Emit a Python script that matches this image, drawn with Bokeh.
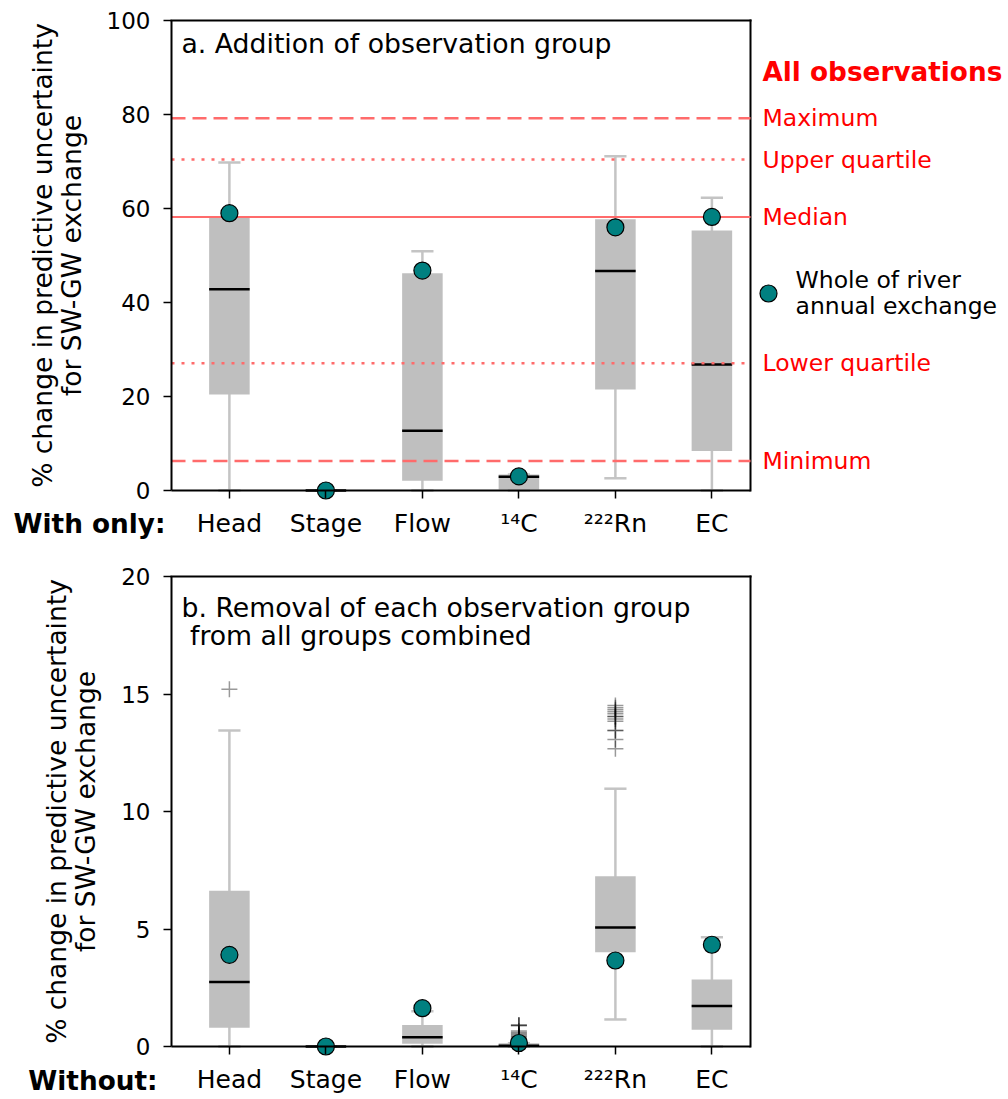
import math
from bokeh.plotting import figure
from bokeh.models import Range1d, FixedTicker, ColumnDataSource
from bokeh.layouts import column
from bokeh.core.properties import value
from bokeh.embed import file_html
from bokeh.resources import INLINE

# ---------------- data ----------------
categories = ["Head", "Stage", "Flow", "¹⁴C", "²²²Rn", "EC"]
positions = [1, 2, 3, 4, 5, 6]

# a. Addition of observation group ("With only")
a_whislo = [0.0, 0.0, 0.0, 0.0, 2.6, 0.0]
a_q1 = [20.4, 0.0, 2.1, 0.2, 21.5, 8.4]
a_med = [42.8, 0.0, 12.7, 2.9, 46.7, 26.8]
a_q3 = [58.2, 0.0, 46.2, 3.4, 57.7, 55.3]
a_whishi = [69.8, 0.0, 50.9, 3.4, 71.1, 62.3]
a_whole = [59.0, 0.0, 46.8, 3.0, 56.0, 58.2]

all_stat_names = ["Maximum", "Upper quartile", "Median", "Lower quartile", "Minimum"]
all_stat_values = [79.2, 70.4, 58.2, 27.1, 6.3]

# b. Removal of each observation group ("Without")
b_whislo = [0.0, 0.0, 0.0, 0.0, 1.15, 0.0]
b_q1 = [0.8, 0.0, 0.12, 0.0, 4.01, 0.71]
b_med = [2.74, 0.0, 0.39, 0.03, 5.06, 1.72]
b_q3 = [6.63, 0.0, 0.92, 0.14, 7.25, 2.85]
b_whishi = [13.45, 0.0, 1.5, 0.14, 10.97, 4.65]
b_whole = [3.9, 0.0, 1.63, 0.15, 3.66, 4.33]

b_out_head = [15.2]
b_out_c14 = [0.92, 0.9, 0.88, 0.66, 0.6, 0.55, 0.5, 0.45, 0.4, 0.35, 0.3, 0.26, 0.22, 0.18]
b_out_rn = [14.51, 14.41, 14.33, 14.24, 14.16, 14.04, 14.04, 13.94, 13.84, 13.45, 13.45, 13.06, 12.67]

ylabel_lines = ["% change in predictive uncertainty", "for SW-GW exchange"]

# ---------------- layout / styling ----------------
FONT = "DejaVu Sans"
BOX = "#bfbfbf"
WHISK = "#c4c4c4"
TEAL = "#008080"
REDLINE = "#ff6b6b"
W = 1008
AX_PX = 171            # canvas x of the y axis
BOT_PX = 490           # canvas y (from top of each figure) of the x axis
TOP_PX = 20            # canvas y of the top of the box
PX_PER_UNIT = 96.5     # horizontal scale
XMIN, XMAX = 0.4, 6.4
XLEFT = XMIN - AX_PX / PX_PER_UNIT
XRIGHT = XLEFT + W / PX_PER_UNIT


def px_x(px):
    return XLEFT + px / PX_PER_UNIT


def make_panel(height, ymax, yticks, ylabel_baselines):
    ppu = (BOT_PX - TOP_PX) / ymax
    p = figure(width=W, height=height, output_backend="svg", toolbar_location=None,
               x_range=Range1d(XLEFT, XRIGHT),
               y_range=Range1d(-(height - BOT_PX) / ppu, ymax + TOP_PX / ppu),
               min_border=0, title_location=None)
    p.outline_line_color = None
    p.grid.visible = False
    p.xaxis.fixed_location = 0
    p.xaxis.bounds = (XMIN, XMAX)
    p.xaxis.ticker = FixedTicker(ticks=positions)
    p.xaxis.major_label_overrides = {pos: c for pos, c in zip(positions, categories)}
    p.yaxis.fixed_location = XMIN
    p.yaxis.bounds = (0, ymax)
    p.yaxis.ticker = FixedTicker(ticks=yticks)
    for ax in (p.xaxis, p.yaxis):
        ax.major_tick_in = 0
        ax.major_tick_out = 8
        ax.minor_tick_in = 0
        ax.minor_tick_out = 0
        ax.major_tick_line_width = 1.5
        ax.major_tick_line_color = "black"
        ax.axis_line_width = 2
        ax.axis_line_color = "black"
        ax.major_label_text_font = FONT
        ax.major_label_text_color = "black"
    p.xaxis.major_label_text_font_size = "25px"
    p.yaxis.major_label_text_font_size = "23px"
    p.xaxis.major_label_standoff = 10
    p.yaxis.major_label_standoff = 13
    # top and right edges of the box
    p.segment(x0=[XMIN, XMAX], x1=[XMAX, XMAX], y0=[ymax, 0], y1=[ymax, ymax],
              line_color="black", line_width=2, line_cap="square")
    # rotated y-axis label (two lines)
    p.text(x=[px_x(b) for b in ylabel_baselines], y=[ymax / 2] * 2, text=ylabel_lines,
           angle=math.pi / 2, text_align="center", text_baseline="middle",
           text_font=value(FONT), text_font_size=value("26.5px"), text_color="black")
    return p, ppu


def draw_boxes(p, whislo, q1, med, q3, whishi, whole):
    src = ColumnDataSource(dict(
        x=positions, whislo=whislo, q1=q1, med=med, q3=q3, whishi=whishi, whole=whole,
        xl=[x - 0.115 for x in positions], xr=[x + 0.115 for x in positions],
        ml=[x - 0.21 for x in positions], mr=[x + 0.21 for x in positions],
    ))
    p.segment(x0="x", x1="x", y0="whislo", y1="whishi", source=src, line_color=WHISK, line_width=2.5)
    p.segment(x0="xl", x1="xr", y0="whislo", y1="whislo", source=src, line_color=WHISK, line_width=2.5)
    p.segment(x0="xl", x1="xr", y0="whishi", y1="whishi", source=src, line_color=WHISK, line_width=2.5)
    p.vbar(x="x", width=0.42, bottom="q1", top="q3", source=src, fill_color=BOX, line_color=None)
    p.segment(x0="ml", x1="mr", y0="med", y1="med", source=src, line_color="black", line_width=2.5)
    return src


# ================= Panel a =================
HA = 556
pa, ppu_a = make_panel(HA, 100, [0, 20, 40, 60, 80, 100], [41.5, 70.8])
src_a = draw_boxes(pa, a_whislo, a_q1, a_med, a_q3, a_whishi, a_whole)

dashes = ["14 7", "3 7", "solid", "3 7", "14 7"]
widths = [2.5, 2.5, 2.0, 2.5, 2.5]
for v, d, w in zip(all_stat_values, dashes, widths):
    pa.segment(x0=[XMIN], x1=[XMAX], y0=[v], y1=[v], line_color=REDLINE, line_width=w,
               line_dash=d, line_cap="butt")

pa.scatter(x="x", y="whole", source=src_a, size=17, fill_color=TEAL, line_color="black", line_width=1.2)


def ya(py):
    return (BOT_PX - py) / ppu_a


pa.text(x=[px_x(181)], y=[ya(43)], text=["a. Addition of observation group"], text_font=value(FONT),
        text_font_size=value("26.7px"), text_color="black", text_baseline="middle")
lab_x = px_x(762)
pa.text(x=[lab_x], y=[ya(71)], text=["All observations"], text_font=value(FONT),
        text_font_size=value("26.3px"), text_font_style="bold", text_color="red",
        text_baseline="middle")
pa.text(x=[lab_x] * len(all_stat_names), y=all_stat_values, text=all_stat_names,
        text_font=value(FONT), text_font_size=value("23.5px"), text_color="red",
        text_baseline="middle")
pa.scatter(x=[px_x(768)], y=[ya(293)], size=17, fill_color=TEAL, line_color="black", line_width=1.2)
pa.text(x=[px_x(795)] * 2, y=[ya(279), ya(305)],
        text=["Whole of river", "annual exchange"], text_font=value(FONT),
        text_font_size=value("23.5px"), text_color="black", text_baseline="middle")
pa.text(x=[px_x(165)], y=[ya(523)], text=["With only:"], text_align="right",
        text_baseline="middle", text_font=value(FONT), text_font_size=value("26.3px"),
        text_font_style="bold", text_color="black")

# ================= Panel b =================
HB = 543
pb, ppu_b = make_panel(HB, 20, [0, 5, 10, 15, 20], [56.1, 85.4])
src_b = draw_boxes(pb, b_whislo, b_q1, b_med, b_q3, b_whishi, b_whole)


def yb(py):
    return (BOT_PX - py) / ppu_b


out_x = [1] * len(b_out_head) + [4] * len(b_out_c14) + [5] * len(b_out_rn)
out_y = b_out_head + b_out_c14 + b_out_rn
pb.scatter(x=out_x, y=out_y, marker="cross", size=16, line_color="black", line_alpha=0.4,
           line_width=1.5)

pb.scatter(x="x", y="whole", source=src_b, size=17, fill_color=TEAL, line_color="black", line_width=1.2)

pb.text(x=[px_x(181), px_x(189.5)], y=[yb(606.7 - 556), yb(634.7 - 556)],
        text=["b. Removal of each observation group", "from all groups combined"],
        text_font=value(FONT), text_font_size=value("26.7px"), text_color="black",
        text_baseline="middle")
pb.text(x=[px_x(157)], y=[yb(524)], text=["Without:"], text_align="right",
        text_baseline="middle", text_font=value(FONT), text_font_size=value("26.3px"),
        text_font_style="bold", text_color="black")

layout = column(pa, pb)
open("out.html", "w").write(file_html(layout, INLINE))
